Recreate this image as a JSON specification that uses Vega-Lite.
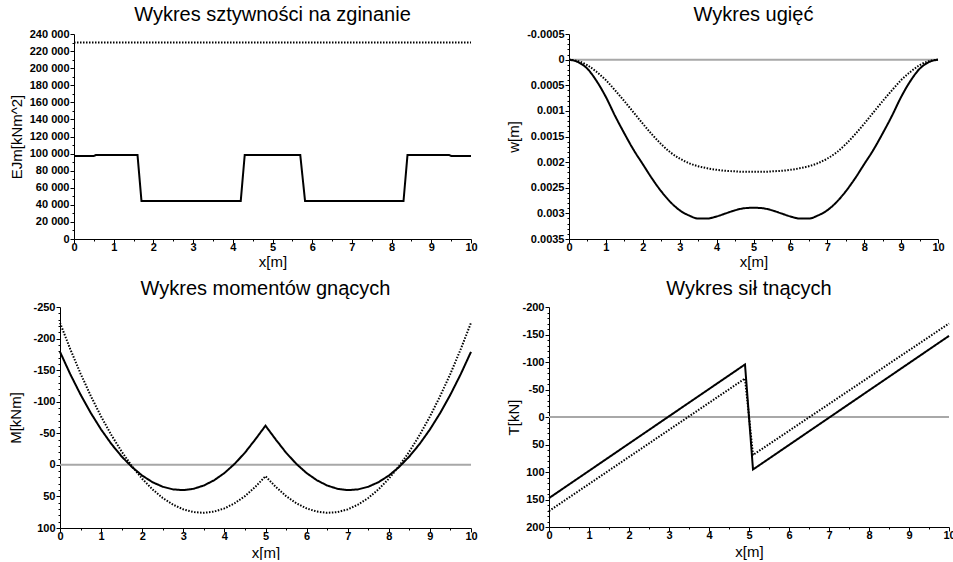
{
  "$schema": "https://vega.github.io/schema/vega-lite/v6.json",
  "background": "white",
  "padding": {"left": 8, "top": 5, "right": 0, "bottom": 0},
  "config": {
    "view": {"stroke": null},
    "title": {"font": "Liberation Sans", "fontSize": 20, "fontWeight": "normal", "color": "#000", "anchor": "middle", "frame": "group", "baseline": "alphabetic", "offset": 5},
    "axis": {"labelFont": "Liberation Sans", "labelFontSize": 11, "labelFontWeight": "bold", "labelColor": "#000", "titleFont": "Liberation Sans", "titleFontSize": 15, "titleFontWeight": "normal", "titleColor": "#000", "domainColor": "#000", "tickColor": "#000", "grid": false, "labelOverlap": false, "labelFlush": false, "labelPadding": 1, "labelBound": false},
    "axisX": {"titlePadding": 2, "labelPadding": -2},
    "line": {"color": "#000", "strokeWidth": 2}
  },
  "datasets": {
    "ej": [
      {"x":0,"v":97300,"s":"solid"},{"x":0.5,"v":97300,"s":"solid"},{"x":0.55,"v":98200,"s":"solid"},{"x":1.6,"v":98200,"s":"solid"},{"x":1.7,"v":44400,"s":"solid"},{"x":4.2,"v":44400,"s":"solid"},{"x":4.3,"v":98200,"s":"solid"},{"x":5.7,"v":98200,"s":"solid"},{"x":5.82,"v":44400,"s":"solid"},{"x":8.3,"v":44400,"s":"solid"},{"x":8.4,"v":98200,"s":"solid"},{"x":9.45,"v":98200,"s":"solid"},{"x":9.5,"v":97300,"s":"solid"},{"x":10,"v":97300,"s":"solid"},
      {"x":0,"v":230000,"s":"dotted"},{"x":10,"v":230000,"s":"dotted"}
    ],
    "w": [
      {"x":0,"v":0,"s":"zero"},{"x":10,"v":0,"s":"zero"},
      {"x":0,"v":0,"s":"solid"},{"x":0.25,"v":0.00005,"s":"solid"},{"x":0.5,"v":0.00018,"s":"solid"},{"x":0.75,"v":0.00042,"s":"solid"},{"x":1,"v":0.00073,"s":"solid"},{"x":1.25,"v":0.0011,"s":"solid"},{"x":1.5,"v":0.00144,"s":"solid"},{"x":1.75,"v":0.00176,"s":"solid"},{"x":2,"v":0.00204,"s":"solid"},{"x":2.25,"v":0.00232,"s":"solid"},{"x":2.5,"v":0.00257,"s":"solid"},{"x":2.75,"v":0.00278,"s":"solid"},{"x":3,"v":0.00294,"s":"solid"},{"x":3.25,"v":0.00304,"s":"solid"},{"x":3.5,"v":0.0031,"s":"solid"},{"x":3.75,"v":0.0031,"s":"solid"},{"x":4,"v":0.00306,"s":"solid"},{"x":4.25,"v":0.003,"s":"solid"},{"x":4.5,"v":0.00294,"s":"solid"},{"x":4.75,"v":0.0029,"s":"solid"},{"x":5,"v":0.00289,"s":"solid"},{"x":5.25,"v":0.0029,"s":"solid"},{"x":5.5,"v":0.00294,"s":"solid"},{"x":5.75,"v":0.003,"s":"solid"},{"x":6,"v":0.00306,"s":"solid"},{"x":6.25,"v":0.0031,"s":"solid"},{"x":6.5,"v":0.0031,"s":"solid"},{"x":6.75,"v":0.00304,"s":"solid"},{"x":7,"v":0.00294,"s":"solid"},{"x":7.25,"v":0.00278,"s":"solid"},{"x":7.5,"v":0.00257,"s":"solid"},{"x":7.75,"v":0.00232,"s":"solid"},{"x":8,"v":0.00204,"s":"solid"},{"x":8.25,"v":0.00176,"s":"solid"},{"x":8.5,"v":0.00144,"s":"solid"},{"x":8.75,"v":0.0011,"s":"solid"},{"x":9,"v":0.00073,"s":"solid"},{"x":9.25,"v":0.00042,"s":"solid"},{"x":9.5,"v":0.00018,"s":"solid"},{"x":9.75,"v":0.00005,"s":"solid"},{"x":10,"v":0,"s":"solid"},
      {"x":0,"v":0,"s":"dotted"},{"x":0.25,"v":0.00003,"s":"dotted"},{"x":0.5,"v":0.00011,"s":"dotted"},{"x":0.75,"v":0.00024,"s":"dotted"},{"x":1,"v":0.0004,"s":"dotted"},{"x":1.25,"v":0.0006,"s":"dotted"},{"x":1.5,"v":0.00081,"s":"dotted"},{"x":1.75,"v":0.00103,"s":"dotted"},{"x":2,"v":0.00125,"s":"dotted"},{"x":2.25,"v":0.00146,"s":"dotted"},{"x":2.5,"v":0.00165,"s":"dotted"},{"x":2.75,"v":0.00181,"s":"dotted"},{"x":3,"v":0.00193,"s":"dotted"},{"x":3.25,"v":0.00202,"s":"dotted"},{"x":3.5,"v":0.00208,"s":"dotted"},{"x":3.75,"v":0.00212,"s":"dotted"},{"x":4,"v":0.00215,"s":"dotted"},{"x":4.25,"v":0.00217,"s":"dotted"},{"x":4.5,"v":0.00218,"s":"dotted"},{"x":4.75,"v":0.00219,"s":"dotted"},{"x":5,"v":0.00219,"s":"dotted"},{"x":5.25,"v":0.00219,"s":"dotted"},{"x":5.5,"v":0.00218,"s":"dotted"},{"x":5.75,"v":0.00217,"s":"dotted"},{"x":6,"v":0.00215,"s":"dotted"},{"x":6.25,"v":0.00212,"s":"dotted"},{"x":6.5,"v":0.00208,"s":"dotted"},{"x":6.75,"v":0.00202,"s":"dotted"},{"x":7,"v":0.00193,"s":"dotted"},{"x":7.25,"v":0.00181,"s":"dotted"},{"x":7.5,"v":0.00165,"s":"dotted"},{"x":7.75,"v":0.00146,"s":"dotted"},{"x":8,"v":0.00125,"s":"dotted"},{"x":8.25,"v":0.00103,"s":"dotted"},{"x":8.5,"v":0.00081,"s":"dotted"},{"x":8.75,"v":0.0006,"s":"dotted"},{"x":9,"v":0.0004,"s":"dotted"},{"x":9.25,"v":0.00024,"s":"dotted"},{"x":9.5,"v":0.00011,"s":"dotted"},{"x":9.75,"v":0.00003,"s":"dotted"},{"x":10,"v":0,"s":"dotted"}
    ],
    "m": [
      {"x":0,"v":0,"s":"zero"},{"x":10,"v":0,"s":"zero"},
      {"x":0,"v":-179,"s":"solid"},{"x":0.25,"v":-143.6,"s":"solid"},{"x":0.5,"v":-111.3,"s":"solid"},{"x":0.75,"v":-82.1,"s":"solid"},{"x":1,"v":-56,"s":"solid"},{"x":1.25,"v":-33.1,"s":"solid"},{"x":1.5,"v":-13.3,"s":"solid"},{"x":1.75,"v":3.4,"s":"solid"},{"x":2,"v":17,"s":"solid"},{"x":2.25,"v":27.4,"s":"solid"},{"x":2.5,"v":34.7,"s":"solid"},{"x":2.75,"v":38.9,"s":"solid"},{"x":3,"v":40,"s":"solid"},{"x":3.25,"v":37.9,"s":"solid"},{"x":3.5,"v":32.7,"s":"solid"},{"x":3.75,"v":24.4,"s":"solid"},{"x":4,"v":13,"s":"solid"},{"x":4.25,"v":-1.6,"s":"solid"},{"x":4.5,"v":-19.3,"s":"solid"},{"x":4.75,"v":-40.1,"s":"solid"},{"x":5,"v":-62,"s":"solid"},{"x":5.25,"v":-40.1,"s":"solid"},{"x":5.5,"v":-19.3,"s":"solid"},{"x":5.75,"v":-1.6,"s":"solid"},{"x":6,"v":13,"s":"solid"},{"x":6.25,"v":24.4,"s":"solid"},{"x":6.5,"v":32.7,"s":"solid"},{"x":6.75,"v":37.9,"s":"solid"},{"x":7,"v":40,"s":"solid"},{"x":7.25,"v":38.9,"s":"solid"},{"x":7.5,"v":34.7,"s":"solid"},{"x":7.75,"v":27.4,"s":"solid"},{"x":8,"v":17,"s":"solid"},{"x":8.25,"v":3.4,"s":"solid"},{"x":8.5,"v":-13.3,"s":"solid"},{"x":8.75,"v":-33.1,"s":"solid"},{"x":9,"v":-56,"s":"solid"},{"x":9.25,"v":-82.1,"s":"solid"},{"x":9.5,"v":-111.3,"s":"solid"},{"x":9.75,"v":-143.6,"s":"solid"},{"x":10,"v":-179,"s":"solid"},
      {"x":0,"v":-225,"s":"dotted"},{"x":0.25,"v":-183.2,"s":"dotted"},{"x":0.5,"v":-144.5,"s":"dotted"},{"x":0.75,"v":-109,"s":"dotted"},{"x":1,"v":-76.5,"s":"dotted"},{"x":1.25,"v":-47.2,"s":"dotted"},{"x":1.5,"v":-21,"s":"dotted"},{"x":1.75,"v":2,"s":"dotted"},{"x":2,"v":22,"s":"dotted"},{"x":2.25,"v":38.8,"s":"dotted"},{"x":2.5,"v":52.5,"s":"dotted"},{"x":2.75,"v":63,"s":"dotted"},{"x":3,"v":70.5,"s":"dotted"},{"x":3.25,"v":74.8,"s":"dotted"},{"x":3.5,"v":76,"s":"dotted"},{"x":3.75,"v":74,"s":"dotted"},{"x":4,"v":69,"s":"dotted"},{"x":4.25,"v":60.8,"s":"dotted"},{"x":4.5,"v":49.5,"s":"dotted"},{"x":4.75,"v":35,"s":"dotted"},{"x":5,"v":18,"s":"dotted"},{"x":5.25,"v":35,"s":"dotted"},{"x":5.5,"v":49.5,"s":"dotted"},{"x":5.75,"v":60.8,"s":"dotted"},{"x":6,"v":69,"s":"dotted"},{"x":6.25,"v":74,"s":"dotted"},{"x":6.5,"v":76,"s":"dotted"},{"x":6.75,"v":74.8,"s":"dotted"},{"x":7,"v":70.5,"s":"dotted"},{"x":7.25,"v":63,"s":"dotted"},{"x":7.5,"v":52.5,"s":"dotted"},{"x":7.75,"v":38.8,"s":"dotted"},{"x":8,"v":22,"s":"dotted"},{"x":8.25,"v":2,"s":"dotted"},{"x":8.5,"v":-21,"s":"dotted"},{"x":8.75,"v":-47.2,"s":"dotted"},{"x":9,"v":-76.5,"s":"dotted"},{"x":9.25,"v":-109,"s":"dotted"},{"x":9.5,"v":-144.5,"s":"dotted"},{"x":9.75,"v":-183.2,"s":"dotted"},{"x":10,"v":-225,"s":"dotted"}
    ],
    "t": [
      {"x":0,"v":0,"s":"zero"},{"x":10,"v":0,"s":"zero"},
      {"x":0,"v":147.5,"s":"solid"},{"x":4.9,"v":-95.5,"s":"solid"},{"x":5.1,"v":95.5,"s":"solid"},{"x":10,"v":-147.5,"s":"solid"},
      {"x":0,"v":171,"s":"dotted"},{"x":4.9,"v":-70,"s":"dotted"},{"x":5.1,"v":69,"s":"dotted"},{"x":10,"v":-170,"s":"dotted"}
    ]
  },
  "columns": 2,
  "align": "none",
  "spacing": {"row": 10, "column": 28},
  "concat": [
    {
      "width": 411, "height": 205,
      "title": {"text": "Wykres sztywności na zginanie", "offset": 3, "dx": 7},
      "data": {"name": "ej"},
      "mark": {"type": "line"},
      "encoding": {
        "x": {"field": "x", "type": "quantitative", "title": "x[m]", "scale": {"domain": [0, 10], "nice": false, "range": [14, 411]},
          "axis": {"values": [0,0.5,1,1.5,2,2.5,3,3.5,4,4.5,5,5.5,6,6.5,7,7.5,8,8.5,9,9.5,10], "labelExpr": "datum.value % 1 === 0 ? '' + datum.value : ''", "tickSize": {"condition": {"test": "datum.value % 1 === 0", "value": 4}, "value": 2}}},
        "y": {"field": "v", "type": "quantitative", "title": "EJm[kNm^2]", "scale": {"domain": [0, 240000], "nice": false},
          "axis": {"offset": -14, "values": [0,10000,20000,30000,40000,50000,60000,70000,80000,90000,100000,110000,120000,130000,140000,150000,160000,170000,180000,190000,200000,210000,220000,230000,240000], "labelExpr": "datum.value % 20000 === 0 ? replace(format(datum.value, ','), ',', ' ') : ''", "tickSize": {"condition": {"test": "datum.value % 20000 === 0", "value": 4}, "value": 2}, "titlePadding": 5}},
        "strokeDash": {"field": "s", "type": "nominal", "scale": {"domain": ["solid", "dotted"], "range": [[1, 0], [1.5, 1.5]]}, "legend": null}
      }
    },
    {
      "width": 369, "height": 205,
      "title": {"text": "Wykres ugięć", "offset": 3},
      "data": {"name": "w"},
      "mark": {"type": "line", "interpolate": "monotone"},
      "encoding": {
        "x": {"field": "x", "type": "quantitative", "title": "x[m]", "scale": {"domain": [0, 10], "nice": false},
          "axis": {"values": [0,0.5,1,1.5,2,2.5,3,3.5,4,4.5,5,5.5,6,6.5,7,7.5,8,8.5,9,9.5,10], "labelExpr": "datum.value % 1 === 0 ? '' + datum.value : ''", "tickSize": {"condition": {"test": "datum.value % 1 === 0", "value": 4}, "value": 2}}},
        "y": {"field": "v", "type": "quantitative", "title": "w[m]", "scale": {"domain": [-0.0005, 0.0035], "nice": false, "reverse": true},
          "axis": {"values": [-0.0005,-0.0004,-0.0003,-0.0002,-0.0001,0,0.0001,0.0002,0.0003,0.0004,0.0005,0.0006,0.0007,0.0008,0.0009,0.001,0.0011,0.0012,0.0013,0.0014,0.0015,0.0016,0.0017,0.0018,0.0019,0.002,0.0021,0.0022,0.0023,0.0024,0.0025,0.0026,0.0027,0.0028,0.0029,0.003,0.0031,0.0032,0.0033,0.0034,0.0035], "labelExpr": "abs(datum.value / 0.0005 - round(datum.value / 0.0005)) < 0.001 ? '' + datum.value : ''", "tickSize": {"condition": {"test": "abs(datum.value / 0.0005 - round(datum.value / 0.0005)) < 0.001", "value": 4}, "value": 2}, "titlePadding": 5}},
        "strokeDash": {"field": "s", "type": "nominal", "scale": {"domain": ["zero", "solid", "dotted"], "range": [[1, 0], [1, 0], [1.5, 1.5]]}, "legend": null},
        "color": {"field": "s", "type": "nominal", "scale": {"domain": ["zero", "solid", "dotted"], "range": ["#a8a8a8", "#000000", "#000000"]}, "legend": null}
      }
    },
    {
      "width": 411, "height": 221,
      "title": {"text": "Wykres momentów gnących", "offset": 2},
      "data": {"name": "m"},
      "mark": {"type": "line"},
      "encoding": {
        "x": {"field": "x", "type": "quantitative", "title": "x[m]", "scale": {"domain": [0, 10], "nice": false},
          "axis": {"titlePadding": 4, "values": [0,0.5,1,1.5,2,2.5,3,3.5,4,4.5,5,5.5,6,6.5,7,7.5,8,8.5,9,9.5,10], "labelExpr": "datum.value % 1 === 0 ? '' + datum.value : ''", "tickSize": {"condition": {"test": "datum.value % 1 === 0", "value": 4}, "value": 2}}},
        "y": {"field": "v", "type": "quantitative", "title": "M[kNm]", "scale": {"domain": [-250, 100], "nice": false, "reverse": true},
          "axis": {"values": [-250,-240,-230,-220,-210,-200,-190,-180,-170,-160,-150,-140,-130,-120,-110,-100,-90,-80,-70,-60,-50,-40,-30,-20,-10,0,10,20,30,40,50,60,70,80,90,100], "labelExpr": "datum.value % 50 === 0 ? '' + datum.value : ''", "tickSize": {"condition": {"test": "datum.value % 50 === 0", "value": 4}, "value": 2}, "titlePadding": 9}},
        "strokeDash": {"field": "s", "type": "nominal", "scale": {"domain": ["zero", "solid", "dotted"], "range": [[1, 0], [1, 0], [1.5, 1.5]]}, "legend": null},
        "strokeWidth": {"field": "s", "type": "nominal", "scale": {"domain": ["zero", "solid", "dotted"], "range": [1, 2, 2]}, "legend": null},
        "color": {"field": "s", "type": "nominal", "scale": {"domain": ["zero", "solid", "dotted"], "range": ["#000000", "#000000", "#000000"]}, "legend": null}
      }
    },
    {
      "width": 400, "height": 220,
      "title": {"text": "Wykres sił tnących", "offset": 2},
      "data": {"name": "t"},
      "mark": {"type": "line"},
      "encoding": {
        "x": {"field": "x", "type": "quantitative", "title": "x[m]", "scale": {"domain": [0, 10], "nice": false},
          "axis": {"titlePadding": 4, "values": [0,0.5,1,1.5,2,2.5,3,3.5,4,4.5,5,5.5,6,6.5,7,7.5,8,8.5,9,9.5,10], "labelExpr": "datum.value % 1 === 0 ? '' + datum.value : ''", "tickSize": {"condition": {"test": "datum.value % 1 === 0", "value": 4}, "value": 2}}},
        "y": {"field": "v", "type": "quantitative", "title": "T[kN]", "scale": {"domain": [-200, 200], "nice": false, "reverse": true},
          "axis": {"values": [-200,-190,-180,-170,-160,-150,-140,-130,-120,-110,-100,-90,-80,-70,-60,-50,-40,-30,-20,-10,0,10,20,30,40,50,60,70,80,90,100,110,120,130,140,150,160,170,180,190,200], "labelExpr": "datum.value % 50 === 0 ? '' + datum.value : ''", "tickSize": {"condition": {"test": "datum.value % 50 === 0", "value": 4}, "value": 2}, "titlePadding": 0}},
        "strokeDash": {"field": "s", "type": "nominal", "scale": {"domain": ["zero", "solid", "dotted"], "range": [[1, 0], [1, 0], [1.5, 1.5]]}, "legend": null},
        "strokeWidth": {"field": "s", "type": "nominal", "scale": {"domain": ["zero", "solid", "dotted"], "range": [1, 2, 2]}, "legend": null},
        "color": {"field": "s", "type": "nominal", "scale": {"domain": ["zero", "solid", "dotted"], "range": ["#000000", "#000000", "#000000"]}, "legend": null}
      }
    }
  ]
}
